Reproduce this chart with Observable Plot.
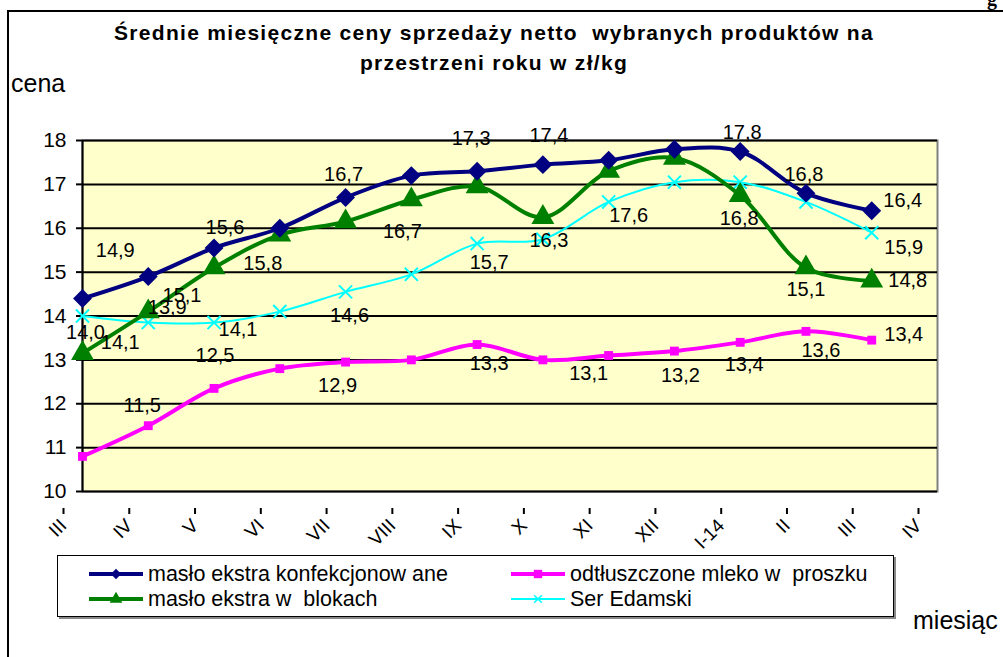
<!DOCTYPE html>
<html><head><meta charset="utf-8">
<script src="https://cdn.jsdelivr.net/npm/d3@7"></script>
<script src="https://cdn.jsdelivr.net/npm/@observablehq/plot@0.6"></script>
<style>
body{margin:0;background:#fff;}
#wrap{position:relative;width:1003px;height:657px;overflow:hidden;background:#fff;font-family:"Liberation Sans",Arial,sans-serif;color:#000;}
#wrap svg.plot{position:absolute;left:0;top:0;}
.abs{position:absolute;white-space:pre;}
#frame{position:absolute;left:7px;top:10px;width:1010px;height:660px;border-left:2px solid #000;border-top:2px solid #000;}
#title{left:0;top:18px;width:988px;text-align:center;font-weight:bold;font-size:21px;line-height:30px;letter-spacing:1.3px;}
#legend{position:absolute;left:57px;top:555px;width:835px;height:60px;border:1.5px solid #000;box-shadow:2px 2px 0 #888;background:#fff;}
.li{position:absolute;font-size:21.5px;display:flex;align-items:center;height:26px;}
.li svg{margin-right:4px;}
</style></head>
<body><div id="wrap">
<div id="frame"></div>
<div class="abs" style="left:987px;top:-13px;font:bold 20px 'Liberation Serif',serif;">g</div>
<div id="title" class="abs">Średnie miesięczne ceny sprzedaży netto  wybranych produktów na
przestrzeni roku w zł/kg</div>
<div class="abs" style="left:11px;top:68px;font-size:25px;line-height:30px;">cena</div>
<div class="abs" style="left:913px;top:605px;font-size:25px;line-height:30px;">miesiąc</div>
<div id="legend"></div>
</div>
<script>
// categories (tick labels)
const months = ["III","IV","V","VI","VII","VIII","IX","X","XI","XII","I-14","II","III","IV"];
// series values (zł/kg)
const masloKonf   = [14.4, 14.9, 15.55, 16.0, 16.7, 17.2, 17.3, 17.45, 17.55, 17.8, 17.75, 16.8, 16.4];
const mlekoProszek= [10.8, 11.5, 12.35, 12.8, 12.95, 13.0, 13.35, 13.0, 13.1, 13.2, 13.4, 13.65, 13.45];
const masloBlok   = [13.15, 14.1, 15.1, 15.85, 16.15, 16.65, 16.95, 16.25, 17.3, 17.6, 16.75, 15.1, 14.8];
const serEdamski  = [14.0, 13.85, 13.85, 14.1, 14.55, 14.95, 15.65, 15.75, 16.6, 17.05, 17.05, 16.6, 15.9];
// data labels as printed on the chart (null = none)
const lblKonf   = [null,"14,9","15,6",null,"16,7",null,"17,3","17,4",null,null,"17,8","16,8","16,4"];
const lblMleko  = [null,"11,5","12,5",null,"12,9",null,"13,3",null,"13,1","13,2","13,4","13,6","13,4"];
const lblBlok   = [null,"14,1","15,1","15,8",null,"16,7",null,"16,3","17,6",null,"16,8","15,1","14,8"];
const lblSer    = ["14,0","13,9","14,1",null,"14,6",null,"15,7",null,null,null,null,null,"15,9"];
const seriesNames = ["masło ekstra konfekcjonow ane","odtłuszczone mleko w  proszku","masło ekstra w  blokach","Ser Edamski"];

// label placement offsets (px) relative to their point
const off = {
  0: {1:[-33,-26],2:[11,-20],4:[-2,-23],6:[-6,-33],7:[6,-29],10:[2,-19],11:[-2,-19],12:[31,-10]},
  1: {1:[-6,-20],2:[1,-33],4:[-8,24],6:[12,19],8:[-20,18],9:[6,24],10:[4,22],11:[15,19],12:[32,-6]},
  2: {1:[-28,31],2:[-32,28],3:[-17,29],5:[-9,32],7:[6,23],8:[20,44],10:[-1,23],11:[0,22],12:[36,0]},
  3: {0:[3,17],1:[19,-15],2:[24,7],4:[4,24],6:[12,19],12:[32,15]}
};
const styles = [
  {color:"#000080", sw:4, symbol:"diamond2", r:8.5, fill:true},
  {color:"#FF00FF", sw:4, symbol:"square", r:5, fill:true},
  {color:"#008000", sw:4, symbol:"triangle", r:8.5, fill:true},
  {color:"#00FFFF", sw:2, symbol:"times", r:6, fill:false}
];
const valuesList = [masloKonf, mlekoProszek, masloBlok, serEdamski];
const labelsList = [lblKonf, lblMleko, lblBlok, lblSer];

const marks = [
  Plot.frame({fill:"#FFFFCC", stroke:"#808080", strokeWidth:2}),
  Plot.ruleY(d3.range(11,19), {stroke:"#000", strokeWidth:2}),
  Plot.ruleY([10], {stroke:"#000", strokeWidth:2}),
  Plot.ruleX([0], {stroke:"#000", strokeWidth:2}),
  Plot.axisY({ticks:d3.range(10,19), tickSize:6, tickPadding:10, fontSize:21, label:null, stroke:"#000", strokeWidth:2}),
  Plot.axisX({ticks:d3.range(0,14), tickFormat:i=>months[i], tickSize:6, tickRotate:-45, tickPadding:8, fontSize:19, label:null, stroke:"#000", strokeWidth:2, dx:-19, dy:17})
];
// draw order: cyan, magenta, green, navy
[3,1,2,0].forEach(s=>{
  const st = styles[s];
  const data = valuesList[s].map((v,i)=>({i, v}));
  marks.push(Plot.line(data, {x:"i", y:"v", stroke:st.color, strokeWidth:st.sw, curve:"catmull-rom"}));
  marks.push(Plot.dot(data, st.fill
    ? {x:"i", y:"v", symbol:()=>st.symbol, r:st.r, fill:st.color, stroke:"none"}
    : {x:"i", y:"v", symbol:()=>st.symbol, r:st.r, stroke:st.color, strokeWidth:2}));
});
[0,1,2,3].forEach(s=>{
  labelsList[s].forEach((t,i)=>{
    if (t==null) return;
    const o = off[s][i] || [0,-20];
    marks.push(Plot.text([{i, v:valuesList[s][i], t}], {x:"i", y:"v", text:"t", dx:o[0], dy:o[1], fontSize:20, fill:"#000"}));
  });
});

const chart = Plot.plot({
  width:1003, height:657,
  marginLeft:82, marginRight:66, marginTop:140, marginBottom:166,
  x:{type:"linear", domain:[0,13]},
  y:{domain:[10,18]},
  symbol:{type:"identity"},
  style:{background:"transparent", fontFamily:"'Liberation Sans', Arial, sans-serif", color:"#000", overflow:"visible"},
  marks
});
chart.classList.add("plot");
document.getElementById("wrap").insertBefore(chart, document.getElementById("frame").nextSibling);

// legend
const lg = document.getElementById("legend");
const legPos = [[30,5],[452,5],[30,30],[452,30]];
[0,1,2,3].forEach(s=>{
  const st = styles[s];
  const d = document.createElement("div");
  d.className="li";
  d.style.left = legPos[s][0]+"px"; d.style.top = legPos[s][1]+"px";
  const sv = d3.create("svg").attr("width",56).attr("height",20);
  sv.append("line").attr("x1",1).attr("x2",55).attr("y1",10).attr("y2",10).attr("stroke",st.color).attr("stroke-width",st.sw);
  const sym = {diamond2:d3.symbolDiamond2, square:d3.symbolSquare, triangle:d3.symbolTriangle, times:d3.symbolTimes}[st.symbol];
  const size = st.fill ? 70 : 40;
  sv.append("path").attr("transform","translate(28,10)").attr("d", d3.symbol(sym, size)())
    .attr("fill", st.fill?st.color:"none").attr("stroke", st.fill?"none":st.color).attr("stroke-width",1.5);
  d.appendChild(sv.node());
  const sp = document.createElement("span"); sp.textContent = seriesNames[s]; sp.style.whiteSpace="pre";
  d.appendChild(sp);
  lg.appendChild(d);
});
</script>
</body></html>
